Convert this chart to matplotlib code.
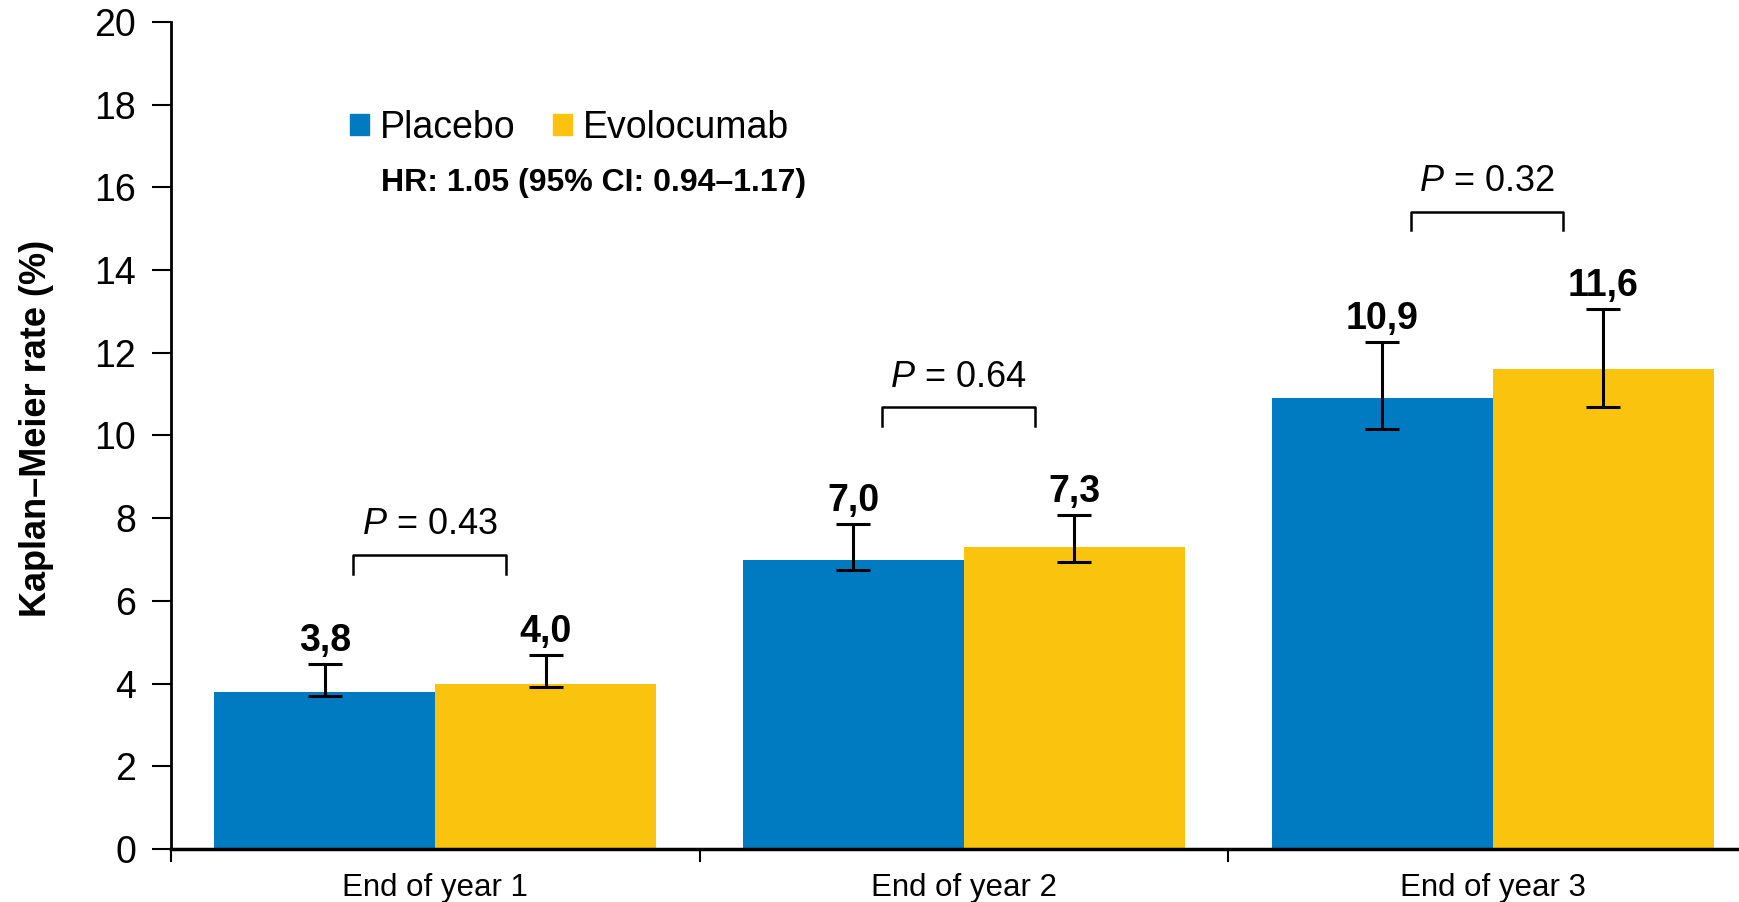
import numpy as np
import matplotlib
matplotlib.use('Agg')
import matplotlib.pyplot as plt
from matplotlib.patches import Patch

plt.rcParams['font.family'] = ['Liberation Sans', 'DejaVu Sans']
plt.rcParams['mathtext.fontset'] = 'custom'
plt.rcParams['mathtext.rm'] = 'Liberation Sans'
plt.rcParams['mathtext.it'] = 'Liberation Sans:italic'

# Kaplan-Meier rates at the end of each year
years = ["End of year 1", "End of year 2", "End of year 3"]
placebo = [3.8, 7.0, 10.9]
evolocumab = [4.0, 7.3, 11.6]
placebo_lo = [3.70, 6.75, 10.15]
placebo_hi = [4.48, 7.87, 12.27]
evolocumab_lo = [3.92, 6.95, 10.68]
evolocumab_hi = [4.70, 8.08, 13.07]
p_values = ["0.43", "0.64", "0.32"]
bracket_y = [7.11, 10.68, 15.41]
hr_text = "HR: 1.05 (95% CI: 0.94\u20131.17)"

BLUE = '#007AC1'
YELLOW = '#FAC40E'


def label(v):
    return f"{v:.1f}".replace('.', ',')


def plot():
    fig = plt.figure(figsize=(17.39, 9.02), dpi=100)
    ax = fig.add_axes([0.0983, 0.0588, 0.912, 0.9168])

    x = np.arange(len(years))
    w = 0.418
    xp = x - w / 2
    xe = x + w / 2
    ax.bar(xp, placebo, width=w, color=BLUE, zorder=2)
    ax.bar(xe, evolocumab, width=w, color=YELLOW, zorder=2)

    for xs, vals, lo, hi in [(xp, placebo, placebo_lo, placebo_hi),
                             (xe, evolocumab, evolocumab_lo, evolocumab_hi)]:
        vals = np.array(vals)
        err = [vals - np.array(lo), np.array(hi) - vals]
        ax.errorbar(xs, vals, yerr=err, fmt='none', ecolor='black',
                    elinewidth=2.2, capsize=12, capthick=2.2, zorder=3)
        for xi, v, h in zip(xs, vals, hi):
            ax.text(xi, h + 0.3, label(v), ha='center', va='baseline',
                    fontsize=27, fontweight='bold', zorder=4)

    # significance brackets with p-values
    for xi, by, p in zip(x, bracket_y, p_values):
        l, r = xi - 0.155, xi + 0.134
        ax.plot([l, l, r, r], [by - 0.45, by, by, by - 0.45], color='black',
                lw=1.8, zorder=3)
        ax.text((l + r) / 2, by + 0.73, f"$\\it{{P}}$ = {p}", ha='center',
                va='center', fontsize=26)

    ax.set_xlim(-0.5, 2.5)
    ax.set_ylim(0, 20)
    ax.set_yticks(np.arange(0, 21, 2))
    ax.set_xticks([-0.5, 0.5, 1.5, 2.5])
    ax.set_xticklabels([])
    ax.set_xticks(x, minor=True)
    ax.set_xticklabels(years, minor=True, fontsize=22.5)
    ax.tick_params(axis='x', which='major', length=9, width=1.5, direction='out')
    ax.tick_params(axis='x', which='minor', length=0, pad=17)
    ax.tick_params(axis='y', length=14, width=1.5, pad=11, labelsize=27)

    for s in ['top', 'right']:
        ax.spines[s].set_visible(False)
    ax.spines['left'].set_linewidth(2)
    ax.spines['bottom'].set_linewidth(2.5)

    handles = [Patch(color=BLUE, label='Placebo'), Patch(color=YELLOW, label='Evolocumab')]
    ax.legend(handles=handles, loc='center left', bbox_to_anchor=(0.113, 0.872),
              ncol=2, frameon=False, fontsize=27, handlelength=0.5, handleheight=0.5,
              handletextpad=0.3, columnspacing=1.0, borderpad=0, borderaxespad=0)
    ax.text(0.1327, 16.1 / 20, hr_text, transform=ax.transAxes, ha='left',
            va='center', fontsize=23, fontweight='bold')

    fig.text(37 / 1739, 1 - 428 / 902, "Kaplan\u2013Meier rate (%)", rotation=90,
             ha='center', va='center', fontsize=26, fontweight='bold')

    fig.savefig('out.png', dpi=100)


if __name__ == '__main__':
    plot()
